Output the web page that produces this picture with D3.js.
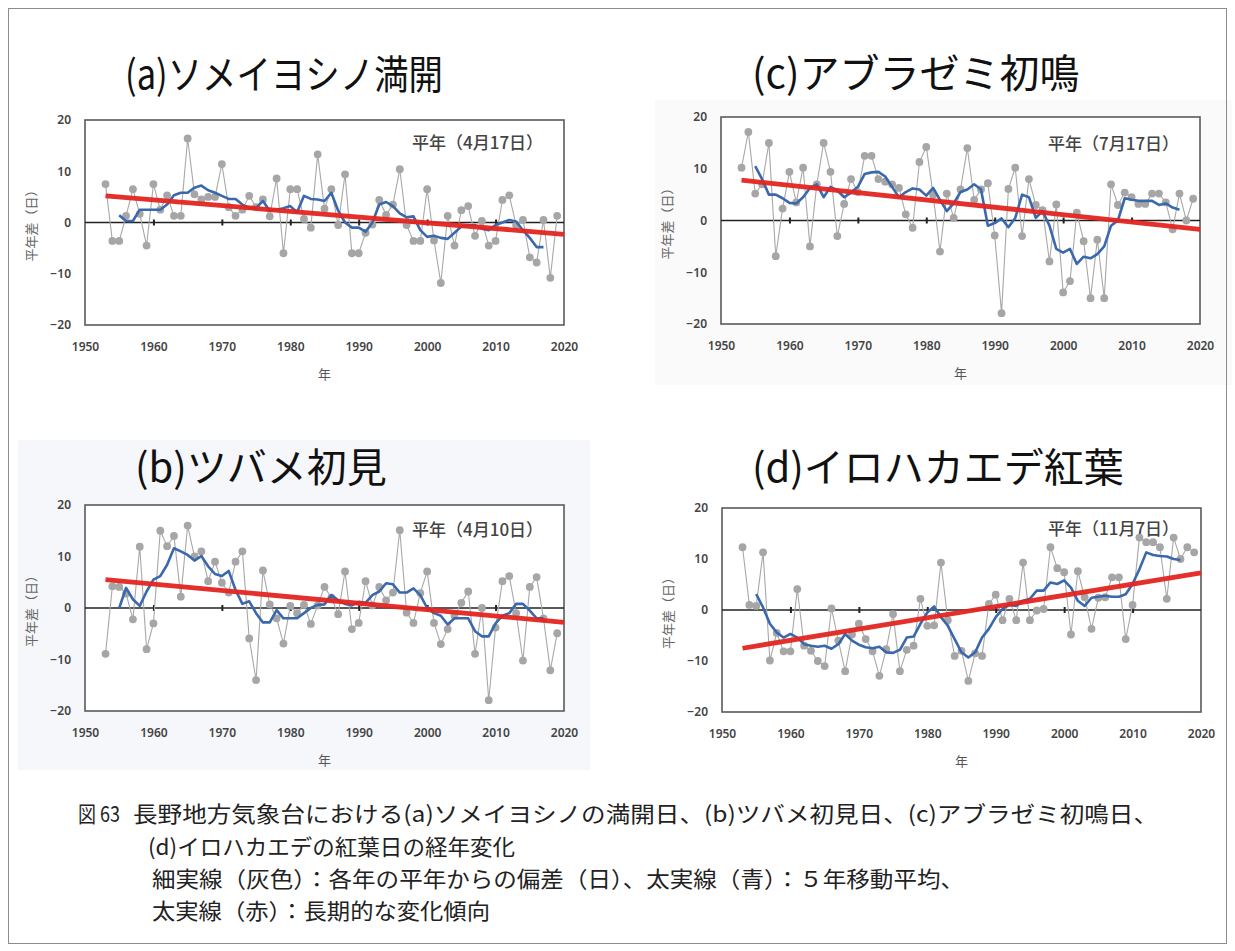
<!DOCTYPE html>
<html>
<head>
<meta charset="utf-8">
<script src="https://cdn.jsdelivr.net/npm/d3@7"></script>
<style>
  body { margin: 0; background: #fff; }
  svg { display: block; }
</style>
</head>
<body>
<svg id="chart" width="1235" height="951"></svg>
<script>
// years of the yearly deviations and of the 5-year running mean
const years = d3.range(1953, 2020);
const maYears = d3.range(1955, 2018);
const xTicks = [1950, 1960, 1970, 1980, 1990, 2000, 2010, 2020];
const yTicks = [-20, -10, 0, 10, 20];

// (a) ソメイヨシノ満開 – deviation from normal (days)
const sakuraDev = [
  7.5, -3.6, -3.6, 1.3, 6.5, 1.7, -4.5,
  7.5, 2.5, 5.3, 1.3, 1.3, 16.4, 5.5, 4.5, 5, 5,
  11.4, 3, 1.3, 2.5, 5.2, 3, 4.5, 1.2, 8.6, -6,
  6.5, 6.5, 0.7, -1, 13.3, 2.7, 6.5, -0.5, 9.4, -6,
  -6, -2, -0.4, 4.4, 1.5, 3.5, 10.4, -0.5, -3.6, -3.6,
  6.5, -3.5, -11.8, 1.3, -4.5, 2.4, 3.2, -2.6, 0.3, -4.5,
  -3.6, 4.4, 5.3, -0.5, 0.5, -6.8, -7.8, 0.5, -10.8, 1.3
];
const sakuraMA = [
  1.4, 0.3, 0.3, 2.5, 2.5,
  2.5, 2.5, 3.5, 5.3, 5.8, 5.8, 6.8, 7.2, 6.3, 5.8,
  5.2, 4.6, 4.6, 3.5, 2.8, 2.8, 4.2, 2.3, 2.5, 2.8,
  3.2, 2.0, 5.2, 4.6, 4.5, 4.2, 5.8, 2.3, 0.0, -1.0,
  -1.0, -1.8, 0.0, 3.5, 4.0, 3.2, 1.8, 1.0, 1.2, -1.5,
  -2.8, -2.6, -3.0, -3.2, -2.0, -0.8, -0.6, -0.5, -1.2, -1.5,
  -0.5, 0.0, 0.5, 0.2, -1.5, -3.0, -4.8, -4.8
];
const sakuraTrend = [5.2, -2.3];   // at 1953 and 2020

// (c) アブラゼミ初鳴
const cicadaDev = [
  10.2, 17.1, 5.2, 7, 15, -6.9, 2.3,
  9.4, 3.5, 10.2, -5, 7, 15, 9.4, -3, 3.2, 8,
  5.5, 12.5, 12.5, 8, 7.5, 7, 6.3, 1.2, -1.4, 11.3,
  14.2, 5, -6, 5.2, 0.5, 6, 14, 4, 6, 7.2,
  -2.9, -17.9, 6.1, 10.2, -3, 8, 3, 2, -7.9, 3.1,
  -13.9, -11.7, 1.5, -4, -15, -3.7, -15, 7, 3, 5.4,
  4.5, 3.2, 3.2, 5.2, 5.2, 3.5, -1.7, 5.2, 0, 4.2
];
const cicadaMA = [
  10.5, 8, 5, 5, 4.3,
  3.4, 3.3, 4.5, 6.3, 7, 4.5, 6.5, 5.8, 4.5, 5.4,
  6.5, 9, 9.3, 9.4, 8.5, 6.5, 4.5, 5.5, 6.2, 6.0,
  4.8, 6.3, 4, 1.8, 3.3, 5.5, 6, 7, 6, -1,
  -0.5, 0.4, -1.3, 0.5, 5, 4.5, 0.5, 1.8, -1, -5.5,
  -6.2, -5.5, -8.4, -7, -7.3, -6.5, -5, -1, 0, 4.3,
  4, 3.8, 3.8, 3.8, 3, 3.3, 2.5, 2.1
];
const cicadaTrend = [7.8, -1.7];

// (b) ツバメ初見
const swallowDev = [
  -8.9, 4.2, 4.1, 2.8, -2.2, 11.9, -8,
  -3, 15, 12, 14, 2.2, 16, 10, 11, 5.2, 9,
  4.9, 3, 9, 11, -5.9, -14, 7.3, 0.7, -2, -6.9,
  0.4, -1, 0.6, -3.1, 0.5, 4.1, 2, -1.2, 7.1, -4.1,
  -2.9, 5.2, 0.5, 4.1, 1.5, 3, 15.1, -0.9, -2.9, 2.9,
  7.1, -2.9, -7, -4.1, -1.5, 1, 3.2, -8.9, 0, -17.9,
  -3.8, 5.2, 6.2, -1, -10.2, 4.1, 6, -2, -12.1, -4.9
];
const swallowMA = [
  0, 3.9, 1.7, 0.4, 3.2,
  5.5, 6.2, 8.4, 11.6, 11, 10.3, 9.2, 10.1, 8.1, 6.6,
  6.2, 7.2, 3.5, 0.8, 1.3, -1.0, -2.8, -2.8, -0.4, -2.0,
  -2.0, -2.0, -1.0, 0.0, 0.6, 0.7, 2.5, 1.5, 0.8, 0.5,
  1.2, 1.0, 2.5, 3.2, 4.8, 4.6, 3.0, 3.0, 3.8, 2.5,
  0.0, -1.0, -1.5, -3.2, -2.0, -2.0, -2.0, -4.5, -5.5, -5.5,
  -3.0, -1.5, -1.0, 0.8, 0.8, -0.5, -2.0, -2.0
];
const swallowTrend = [5.5, -2.8];

// (d) イロハカエデ紅葉
const mapleDev = [
  12.3, 1.0, 0.8, 11.3, -9.9, -4.5, -8.1,
  -8.1, 4.1, -7, -8, -10, -11, 0.3, -6, -12, -4.8,
  -2.7, -5.7, -8.1, -12.9, -7.7, -0.8, -12, -7.8, -7, 2.2,
  -3.1, -3, 9.3, -2, -9, -8, -13.9, -8.5, -9, 1.2,
  3.0, -2, 2.2, -2, 9.3, -2, -0.1, 0.2, 12.3, 8.2,
  7.4, -4.8, 7.6, 2.5, -3.7, 2.4, 2.5, 6.4, 6.4, -5.7,
  1, 14.2, 13.3, 13.3, 12.3, 2.2, 14.2, 10, 12.3, 11.3
];
const mapleMA = [
  3.1, 0.5, -2.7, -4.4, -5.4,
  -4.7, -5.4, -6.7, -7, -7.2, -7, -7.6, -6.7, -4.7, -6,
  -6.8, -7.3, -7.5, -7.2, -8.3, -8.4, -7.8, -5.4, -5.2, -2.7,
  -0.5, 0.7, -1.4, -3.1, -5.7, -8.3, -9.3, -8.3, -5.4, -3.7,
  -1.4, 0.2, 1, 0.8, 1.8, 2.2, 3.8, 3.8, 5.4, 5.1,
  5.8, 4.4, 1.8, 0.8, 2.4, 2.6, 2.8, 2.6, 2.6, 3.1,
  5.1, 8, 11.3, 10.8, 10.6, 10.5, 10, 9.8
];
const mapleTrend = [-7.5, 7.3];

const panels = [
  { title: '(a)ソメイヨシノ満開', normal: '平年（4月17日）', dev: sakuraDev, ma: sakuraMA, trend: sakuraTrend,
    left: 85, top: 120, bottom: 325, titleX: 125, titleY: 89, titleWidth: 318, normalX: 412, normalY: 149 },
  { title: '(c)アブラゼミ初鳴', normal: '平年（7月17日）', dev: cicadaDev, ma: cicadaMA, trend: cicadaTrend,
    left: 721, top: 117, bottom: 324, titleX: 752, titleY: 88, titleWidth: null, normalX: 1048, normalY: 150 },
  { title: '(b)ツバメ初見', normal: '平年（4月10日）', dev: swallowDev, ma: swallowMA, trend: swallowTrend,
    left: 85, top: 505, bottom: 711, titleX: 135, titleY: 482, titleWidth: null, normalX: 412, normalY: 536 },
  { title: '(d)イロハカエデ紅葉', normal: '平年（11月7日）', dev: mapleDev, ma: mapleMA, trend: mapleTrend,
    left: 722, top: 508, bottom: 712, titleX: 752, titleY: 482, titleWidth: null, normalX: 1048, normalY: 535 }
];

const captionLines = [
  { text: '図 63', x: 78, y: 822, width: 42 },
  { text: '長野地方気象台における(a)ソメイヨシノの満開日、(b)ツバメ初見日、(c)アブラゼミ初鳴日、', x: 133, y: 822, width: 1025 },
  { text: '(d)イロハカエデの紅葉日の経年変化', x: 148, y: 855, width: 367 },
  { text: '細実線（灰色）：各年の平年からの偏差（日）、太実線（青）：５年移動平均、', x: 152, y: 887, width: 812 },
  { text: '太実線（赤）：長期的な変化傾向', x: 152, y: 919, width: 338 }
];

const jp = '"Noto Sans CJK JP", "Noto Sans", sans-serif';
const svg = d3.select('#chart');

// light backgrounds of the pasted images and the outer frame
svg.append('rect').attr('x', 18).attr('y', 440).attr('width', 572).attr('height', 330).attr('fill', '#f5f7fa');
svg.append('rect').attr('x', 655).attr('y', 100).attr('width', 577).attr('height', 285).attr('fill', '#fafafa');
svg.append('rect')
  .attr('x', 8.5).attr('y', 8.5).attr('width', 1218).attr('height', 935)
  .attr('fill', 'none').attr('stroke', '#8c8c8c').attr('stroke-width', 1);

const drawPanel = (p) => {
  const g = svg.append('g');
  const x = d3.scaleLinear().domain([1950, 2020]).range([p.left, p.left + 479]);
  const y = d3.scaleLinear().domain([-20, 20]).range([p.bottom, p.top]);

  const title = g.append('text')
    .attr('x', p.titleX).attr('y', p.titleY)
    .attr('font-family', jp).attr('font-size', 40).attr('fill', '#111')
    .text(p.title);
  if (p.titleWidth) title.attr('textLength', p.titleWidth).attr('lengthAdjust', 'spacingAndGlyphs');

  // plot area
  g.append('rect')
    .attr('x', x(1950)).attr('y', y(20))
    .attr('width', x(2020) - x(1950)).attr('height', y(-20) - y(20))
    .attr('fill', '#fff').attr('stroke', '#5a5a5a').attr('stroke-width', 1.6);

  // y axis labels
  const yAxis = g.append('g')
    .attr('transform', `translate(${x(1950)},0)`)
    .call(d3.axisLeft(y).tickValues(yTicks).tickSize(0).tickPadding(14));
  yAxis.select('.domain').remove();
  yAxis.selectAll('text')
    .attr('font-family', '"Noto Sans", sans-serif').attr('font-size', 12)
    .attr('font-weight', 600).attr('fill', '#444');

  // x axis labels under the plot
  const xAxis = g.append('g')
    .attr('transform', `translate(0,${y(-20)})`)
    .call(d3.axisBottom(x).tickValues(xTicks).tickFormat(d3.format('d')).tickSize(0).tickPadding(17));
  xAxis.select('.domain').remove();
  xAxis.selectAll('text')
    .attr('font-family', '"Noto Sans", sans-serif').attr('font-size', 12)
    .attr('font-weight', 600).attr('fill', '#444');

  // zero line with decade ticks
  g.append('line')
    .attr('x1', x(1950)).attr('x2', x(2020)).attr('y1', y(0)).attr('y2', y(0))
    .attr('stroke', '#222').attr('stroke-width', 1.5);
  const zeroTicks = g.append('g')
    .attr('transform', `translate(0,${y(0) - 3})`)
    .call(d3.axisBottom(x).tickValues(d3.range(1960, 2011, 10)).tickSize(6).tickFormat(''));
  zeroTicks.select('.domain').remove();
  zeroTicks.selectAll('line').attr('stroke', '#222').attr('stroke-width', 2);

  // axis titles
  g.append('text')
    .attr('transform', `translate(${x(1950) - 53},${(y(20) + y(-20)) / 2}) rotate(-90)`)
    .attr('text-anchor', 'middle').attr('dominant-baseline', 'middle')
    .attr('font-family', jp).attr('font-size', 13).attr('fill', '#666')
    .text('平年差（日）');
  g.append('text')
    .attr('x', (x(1950) + x(2020)) / 2).attr('y', y(-20) + 54)
    .attr('text-anchor', 'middle')
    .attr('font-family', jp).attr('font-size', 13).attr('fill', '#555')
    .text('年');

  g.append('text')
    .attr('x', p.normalX).attr('y', p.normalY)
    .attr('font-family', jp).attr('font-size', 17).attr('font-weight', 500).attr('fill', '#444')
    .text(p.normal);

  // yearly deviations
  const devData = years.map((yr, i) => ({ yr, v: p.dev[i] }));
  const line = d3.line().x(d => x(d.yr)).y(d => y(d.v));
  g.append('path')
    .attr('d', line(devData))
    .attr('fill', 'none').attr('stroke', '#a8a8a8').attr('stroke-width', 1.1);
  g.selectAll('.dot')
    .data(devData)
    .enter()
    .append('circle')
    .attr('cx', d => x(d.yr)).attr('cy', d => y(d.v)).attr('r', 3.9)
    .attr('fill', '#a6a6a6');

  // 5-year running mean
  const maData = maYears.map((yr, i) => ({ yr, v: p.ma[i] }));
  g.append('path')
    .attr('d', line(maData))
    .attr('fill', 'none').attr('stroke', '#3a68ad').attr('stroke-width', 2.6)
    .attr('stroke-linejoin', 'round');

  // long-term trend
  const trendData = [{ yr: 1953, v: p.trend[0] }, { yr: 2020, v: p.trend[1] }];
  g.append('path')
    .attr('d', line(trendData))
    .attr('fill', 'none').attr('stroke', '#e4241f').attr('stroke-width', 4.8)
    .attr('opacity', 0.95);
};

panels.forEach(drawPanel);

svg.selectAll('.caption')
  .data(captionLines)
  .enter()
  .append('text')
  .attr('x', d => d.x).attr('y', d => d.y)
  .attr('font-family', jp).attr('font-size', 22).attr('fill', '#222')
  .attr('textLength', d => d.width).attr('lengthAdjust', 'spacingAndGlyphs')
  .text(d => d.text);
</script>
</body>
</html>
